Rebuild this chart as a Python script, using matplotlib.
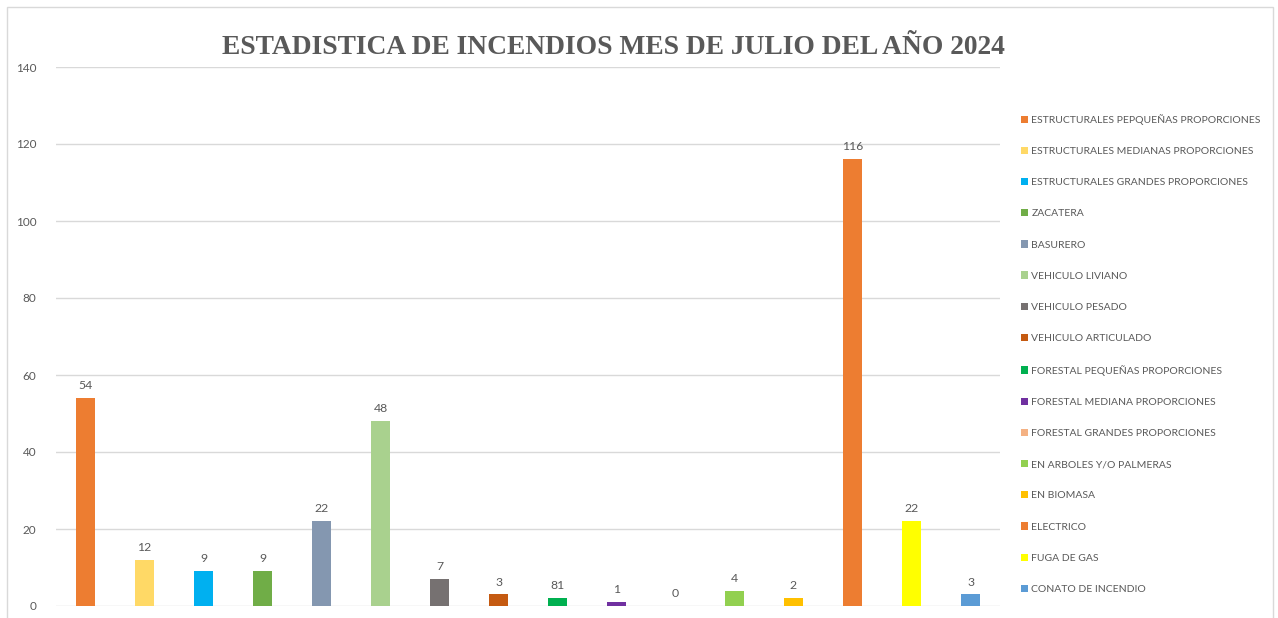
import matplotlib
matplotlib.use("Agg")
import matplotlib.pyplot as plt
from matplotlib.patches import Patch, Rectangle

categories = [
    "ESTRUCTURALES PEPQUEÑAS PROPORCIONES",
    "ESTRUCTURALES MEDIANAS PROPORCIONES",
    "ESTRUCTURALES GRANDES PROPORCIONES",
    "ZACATERA",
    "BASURERO",
    "VEHICULO LIVIANO",
    "VEHICULO PESADO",
    "VEHICULO ARTICULADO",
    "FORESTAL PEQUEÑAS PROPORCIONES",
    "FORESTAL MEDIANA PROPORCIONES",
    "FORESTAL GRANDES PROPORCIONES",
    "EN ARBOLES Y/O PALMERAS",
    "EN BIOMASA",
    "ELECTRICO",
    "FUGA DE GAS",
    "CONATO DE INCENDIO",
]
values = [54, 12, 9, 9, 22, 48, 7, 3, 2, 1, 0, 4, 2, 116, 22, 3]
value_labels = ["54", "12", "9", "9", "22", "48", "7", "3", "81", "1", "0", "4", "2", "116", "22", "3"]
colors = ["#ED7D31", "#FFD966", "#00B0F0", "#70AD47", "#8497B0", "#A9D18E",
          "#767171", "#C55A11", "#00B050", "#7030A0", "#F4B183", "#92D050",
          "#FFC000", "#ED7D31", "#FFFF00", "#5B9BD5"]
yticks = [0, 20, 40, 60, 80, 100, 120, 140]
title = "ESTADISTICA DE INCENDIOS MES DE JULIO DEL AÑO 2024"

W, H = 1278, 618
fig = plt.figure(figsize=(W / 100, H / 100), dpi=100)
fig.patch.set_facecolor("white")
fig.patches.append(Rectangle((7 / W, -0.01), (1273 - 7) / W, (H - 7) / H + 0.01,
                             transform=fig.transFigure, fill=False,
                             edgecolor="#D9D9D9", linewidth=1.0))

ax = fig.add_axes([56 / W, (H - 606) / H, (1000 - 56) / W, (606 - 67) / H])
x = list(range(len(values)))
ax.bar(x, values, width=0.33, color=colors, zorder=3)
for xi, v, lab in zip(x, values, value_labels):
    ax.annotate(lab, (xi, v), xytext=(0, 5), textcoords="offset points",
                ha="center", va="bottom", fontsize=8.8, color="#595959", family="Lato")

ax.set_xlim(-0.5, len(values) - 0.5)
ax.set_ylim(0, 140)
ax.set_yticks(yticks)
ax.set_xticks([])
ax.grid(axis="y", color="#D9D9D9", linewidth=1.0, zorder=0)
for s in ax.spines.values():
    s.set_visible(False)
ax.tick_params(axis="y", length=0, pad=14, labelsize=8.5, labelcolor="#595959")
for t in ax.get_yticklabels():
    t.set_family("Lato")

fig.text(613 / W, 1 - 48 / H, title, ha="center", va="center",
         fontsize=19.8, fontweight="bold", family="Liberation Serif", color="#595959")

handles = [Patch(facecolor=c, edgecolor="none") for c in colors]
leg = fig.legend(handles, categories, loc="upper left",
                 bbox_to_anchor=(1021 / W, 1 - 114 / H),
                 frameon=False, handlelength=0.7, handleheight=0.7,
                 handletextpad=0.3, labelspacing=2.1, borderaxespad=0, borderpad=0,
                 prop={"family": "Lato", "size": 7.5})
for t in leg.get_texts():
    t.set_color("#595959")

fig.savefig("out.png", dpi=100, facecolor="white")
